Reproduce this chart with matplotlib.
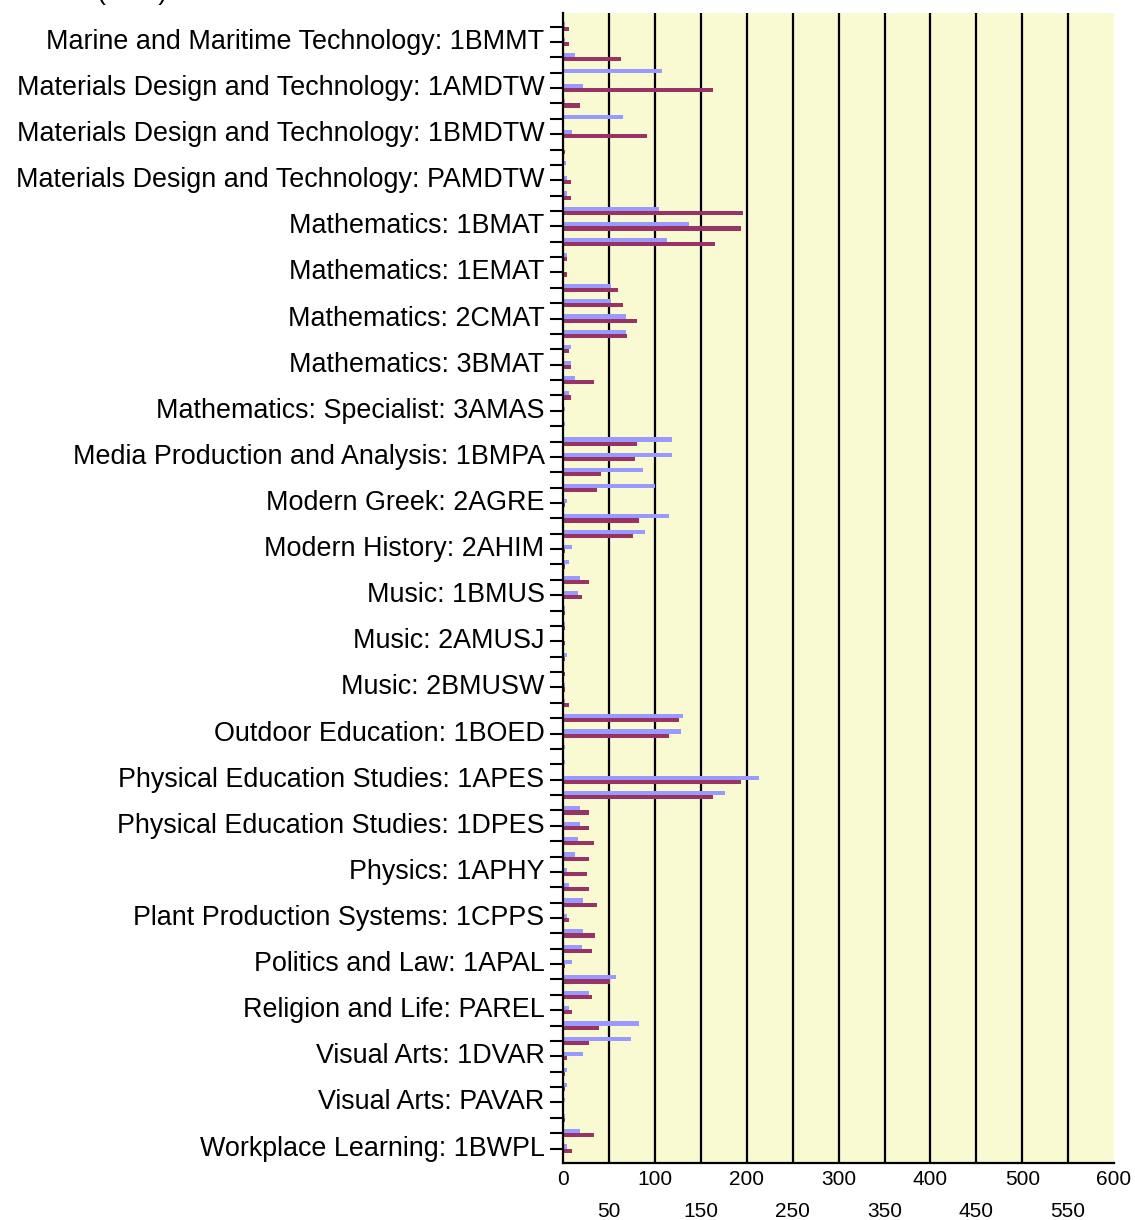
import matplotlib
matplotlib.use("Agg")
import matplotlib.pyplot as plt
import numpy as np

plt.rcParams['font.family'] = ['Liberation Sans', 'DejaVu Sans']

# Labels shown on the category axis (every third category, from the bottom up)
shown_labels = [
    "Marine and Maritime Technology: 1BMMT",
    "Materials Design and Technology: 1AMDTW",
    "Materials Design and Technology: 1BMDTW",
    "Materials Design and Technology: PAMDTW",
    "Mathematics: 1BMAT",
    "Mathematics: 1EMAT",
    "Mathematics: 2CMAT",
    "Mathematics: 3BMAT",
    "Mathematics: Specialist: 3AMAS",
    "Media Production and Analysis: 1BMPA",
    "Modern Greek: 2AGRE",
    "Modern History: 2AHIM",
    "Music: 1BMUS",
    "Music: 2AMUSJ",
    "Music: 2BMUSW",
    "Outdoor Education: 1BOED",
    "Physical Education Studies: 1APES",
    "Physical Education Studies: 1DPES",
    "Physics: 1APHY",
    "Plant Production Systems: 1CPPS",
    "Politics and Law: 1APAL",
    "Religion and Life: PAREL",
    "Visual Arts: 1DVAR",
    "Visual Arts: PAVAR",
    "Workplace Learning: 1BWPL",
]

# Series values, one per category, top to bottom (74 categories)
series1 = [2, 2, 13, 107, 22, 2, 65, 9, 1, 3,
           4, 4, 104, 137, 113, 4, 0, 52, 52, 68,
           68, 8, 8, 13, 6, 2, 2, 118, 118, 87,
           100, 4, 115, 89, 10, 6, 18, 16, 2, 2,
           0, 4, 0, 2, 2, 130, 128, 2, 2, 213,
           176, 18, 18, 16, 13, 4, 6, 22, 4, 22,
           20, 10, 57, 28, 6, 83, 74, 22, 4, 4,
           2, 2, 18, 4]
series2 = [6, 6, 63, 0, 163, 18, 0, 91, 2, 0,
           8, 8, 196, 194, 165, 4, 4, 60, 65, 80,
           69, 6, 8, 33, 8, 0, 0, 80, 78, 41,
           37, 2, 83, 76, 2, 2, 28, 20, 2, 2,
           2, 2, 2, 2, 6, 126, 115, 0, 0, 194,
           163, 28, 28, 33, 28, 26, 28, 37, 6, 35,
           31, 2, 51, 31, 9, 39, 28, 4, 2, 2,
           0, 2, 33, 9]

n = len(series1)
label_step = 3
tick_labels = [""] * n
for k, lab in enumerate(reversed(shown_labels)):
    tick_labels[n - 1 - k * label_step] = lab

c1 = "#9999FF"
c2 = "#993366"
bg = "#F9F9D2"

fig = plt.figure(figsize=(11.35, 12.2), dpi=100)
ax = fig.add_axes([0.4963, 0.047, 0.4852, 0.9423])
ax.set_facecolor(bg)

y = np.arange(n)
h = 0.27
ax.barh(y - h / 2, series1, height=h, color=c1, zorder=3, linewidth=0)
ax.barh(y + h / 2, series2, height=h, color=c2, zorder=3, linewidth=0)

ax.set_ylim(73.92, -0.88)
ax.set_xlim(0, 600)

ax.vlines(np.arange(50, 600, 50), 73.92, -0.88, colors="black", linewidth=1.6, zorder=2)

ax.set_yticks(y)
ax.set_yticklabels(tick_labels, fontsize=19.4)
ax.tick_params(axis='y', direction='out', length=9.5, width=1.5, pad=4, colors='black')
for t in ax.get_yticklabels():
    t.set_verticalalignment('center')

ax.set_xticks(np.arange(0, 601, 100))
ax.set_xticks(np.arange(50, 600, 100), minor=True)
ax.set_xticklabels([str(v) for v in range(0, 601, 100)], fontsize=15)
ax.set_xticklabels([str(v) for v in range(50, 600, 100)], minor=True, fontsize=15)
ax.tick_params(axis='x', which='major', length=0, pad=5)
ax.tick_params(axis='x', which='minor', length=0, pad=28)

for s in ['top', 'right']:
    ax.spines[s].set_visible(False)
for s in ['left', 'bottom']:
    ax.spines[s].set_linewidth(1.6)
    ax.spines[s].set_color('black')
    ax.spines[s].set_zorder(4)

# partially visible title text cut at the top edge
fig.text(97 / 1135, 1.0 + 1.0 / 1220, "(       )", fontsize=19.4, va='baseline', ha='left')

fig.savefig("out.png", dpi=100, facecolor="white")
